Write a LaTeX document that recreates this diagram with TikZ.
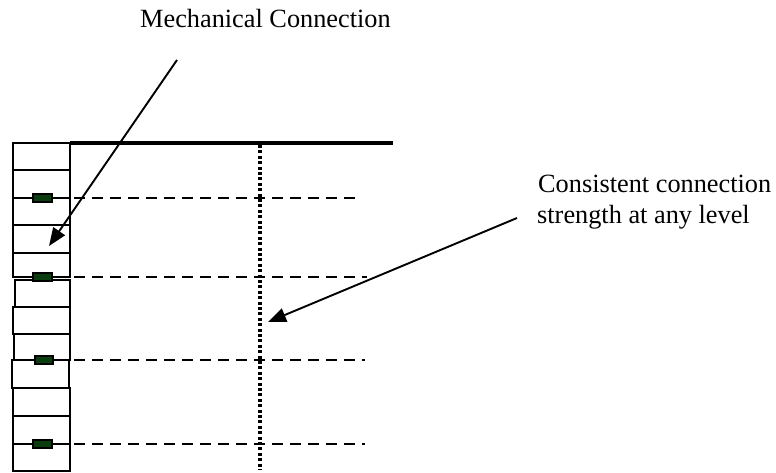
\documentclass[tikz,border=0pt]{standalone}
\usepackage{fontspec}
\setmainfont{Liberation Serif}
\usetikzlibrary{arrows.meta}
\definecolor{conngreen}{RGB}{10,60,15}
\tikzset{
  blk/.style={draw=black,line width=2.3pt},
  conn/.style={draw=black,fill=conngreen,line width=1.3pt},
  dashln/.style={draw=black,line width=2.3pt,dash pattern=on 11pt off 7pt},
  dotln/.style={draw=black,line width=3.3pt,dash pattern=on 3pt off 2.4pt},
  thickln/.style={draw=black,line width=3.4pt},
  lbl/.style={font=\fontsize{26.3}{31}\selectfont,inner sep=0pt,anchor=base west},
  ptr/.style={draw=black,line width=1.9pt,-{Triangle[length=18pt,width=14pt]}}
}
\begin{document}
\begin{tikzpicture}[x=1pt,y=-1pt]
\useasboundingbox (0,0) rectangle (776,472);
% blocks
\draw[blk] (13,143) rectangle (70,170);
\draw[blk] (13,170) rectangle (70,198);
\draw[blk] (13,198) rectangle (70,225);
\draw[blk] (13,225) rectangle (70,253);
\draw[blk] (13,253) rectangle (70,277);
\draw[blk] (15,280) rectangle (70,307);
\draw[blk] (13,307) rectangle (70,334);
\draw[blk] (14,334) rectangle (70,360);
\draw[blk] (12,360) rectangle (69,388);
\draw[blk] (13,388) rectangle (70,416);
\draw[blk] (13,416) rectangle (70,444);
\draw[blk] (13,444) rectangle (70,471);
% top thick line
\draw[thickln] (70,143) -- (393,143);
% dashed lines
\draw[dashln] (74,198) -- (358,198);
\draw[dashln] (74,277) -- (367,277);
\draw[dashln] (74,360) -- (365,360);
\draw[dashln] (74,444) -- (365,444);
% connectors (green)
\draw[conn] (33,194) rectangle (52,202);
\draw[conn] (33,273) rectangle (52,281);
\draw[conn] (35,356) rectangle (53,364);
\draw[conn] (33,440) rectangle (52,448);
% dotted vertical
\draw[dotln] (260,145) -- (260,470);
% labels
\node[lbl] (mech) at (140,27) {Mechanical Connection};
\node[lbl] (cons1) at (538,192) {Consistent connection};
\node[lbl] (cons2) at (537,223) {strength at any level};
% arrows
\coordinate (a1s) at (177,60);
\coordinate (a1e) at (49,246);
\coordinate (a2s) at (517,218);
\coordinate (a2e) at (268,322);
\draw[ptr] (a1s) -- (a1e);
\draw[ptr] (a2s) -- (a2e);
\end{tikzpicture}
\end{document}
